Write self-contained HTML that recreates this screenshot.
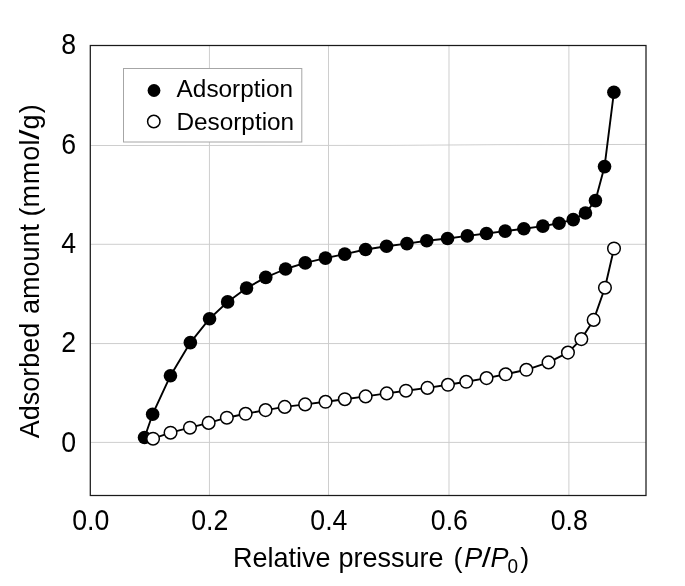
<!DOCTYPE html>
<html><head><meta charset="utf-8"><title>Isotherm</title>
<style>html,body{margin:0;padding:0;background:#fff;overflow:hidden;}svg{display:block;}text{font-family:"Liberation Sans",Arial,sans-serif;fill:#000;}</style></head>
<body>
<svg width="685" height="586" viewBox="0 0 685 586">
<rect x="0" y="0" width="685" height="586" fill="#fff"/>
<g stroke="#cbcbcb" stroke-width="0.95" fill="none">
<line x1="209.45" y1="45.5" x2="209.45" y2="495.5"/>
<line x1="328.5" y1="45.5" x2="328.5" y2="495.5"/>
<line x1="449.0" y1="45.5" x2="449.0" y2="495.5"/>
<line x1="568.9" y1="45.5" x2="568.9" y2="495.5"/>
<line x1="90.3" y1="244.3" x2="646.0" y2="244.3"/>
<line x1="90.3" y1="343.55" x2="646.0" y2="343.55"/>
<line x1="90.3" y1="442.4" x2="646.0" y2="442.4"/>
<polyline points="90.3,145.5 390,145.4 500,144.65 646.0,144.45"/>
</g>
<rect x="90.3" y="45.5" width="555.7" height="450.0" fill="none" stroke="#1a1a1a" stroke-width="1.25"/>
<rect x="123.5" y="68.5" width="178.3" height="73.5" fill="#fff" stroke="#a6a6a6" stroke-width="1"/>
<circle cx="154" cy="90.5" r="6.4" fill="#000"/>
<circle cx="153.8" cy="121.5" r="6.2" fill="#fff" stroke="#000" stroke-width="1.5"/>
<text transform="translate(176.6,97.4)" font-size="24.35">Adsorption</text>
<text transform="translate(176.4,129.7)" font-size="24.35">Desorption</text>
<polyline points="144.55,437.50 152.65,414.20 170.45,375.70 190.35,342.60 209.55,318.70 227.65,301.90 246.55,288.10 265.75,277.40 285.55,269.00 305.25,262.90 325.45,258.10 344.75,254.10 365.55,249.50 386.55,246.20 406.95,243.60 426.75,240.80 447.55,238.50 467.35,235.90 486.45,233.50 505.15,231.10 523.85,228.80 542.85,226.10 559.05,223.20 573.25,219.60 585.45,213.00 595.45,200.60 604.55,166.60 613.90,92.30" fill="none" stroke="#000" stroke-width="1.9" stroke-linejoin="round"/>
<g fill="#000">
<circle cx="144.55" cy="437.50" r="6.8"/>
<circle cx="152.65" cy="414.20" r="6.8"/>
<circle cx="170.45" cy="375.70" r="6.8"/>
<circle cx="190.35" cy="342.60" r="6.8"/>
<circle cx="209.55" cy="318.70" r="6.8"/>
<circle cx="227.65" cy="301.90" r="6.8"/>
<circle cx="246.55" cy="288.10" r="6.8"/>
<circle cx="265.75" cy="277.40" r="6.8"/>
<circle cx="285.55" cy="269.00" r="6.8"/>
<circle cx="305.25" cy="262.90" r="6.8"/>
<circle cx="325.45" cy="258.10" r="6.8"/>
<circle cx="344.75" cy="254.10" r="6.8"/>
<circle cx="365.55" cy="249.50" r="6.8"/>
<circle cx="386.55" cy="246.20" r="6.8"/>
<circle cx="406.95" cy="243.60" r="6.8"/>
<circle cx="426.75" cy="240.80" r="6.8"/>
<circle cx="447.55" cy="238.50" r="6.8"/>
<circle cx="467.35" cy="235.90" r="6.8"/>
<circle cx="486.45" cy="233.50" r="6.8"/>
<circle cx="505.15" cy="231.10" r="6.8"/>
<circle cx="523.85" cy="228.80" r="6.8"/>
<circle cx="542.85" cy="226.10" r="6.8"/>
<circle cx="559.05" cy="223.20" r="6.8"/>
<circle cx="573.25" cy="219.60" r="6.8"/>
<circle cx="585.45" cy="213.00" r="6.8"/>
<circle cx="595.45" cy="200.60" r="6.8"/>
<circle cx="604.55" cy="166.60" r="6.8"/>
<circle cx="613.90" cy="92.30" r="6.8"/>
</g>
<polyline points="153.05,438.70 170.55,432.70 189.95,427.70 208.65,422.90 226.85,417.70 245.65,413.80 265.55,410.10 284.75,406.90 305.15,404.40 325.55,401.80 344.85,399.20 365.65,396.40 386.75,393.40 405.95,390.70 427.45,387.90 447.95,384.80 466.25,381.80 486.55,378.10 505.65,374.30 526.35,369.80 548.55,362.40 567.95,352.60 581.35,339.10 593.65,319.90 604.95,287.70 614.00,248.50" fill="none" stroke="#000" stroke-width="1.9" stroke-linejoin="round"/>
<g fill="#fff" stroke="#000" stroke-width="1.5">
<circle cx="153.05" cy="438.70" r="6.3"/>
<circle cx="170.55" cy="432.70" r="6.3"/>
<circle cx="189.95" cy="427.70" r="6.3"/>
<circle cx="208.65" cy="422.90" r="6.3"/>
<circle cx="226.85" cy="417.70" r="6.3"/>
<circle cx="245.65" cy="413.80" r="6.3"/>
<circle cx="265.55" cy="410.10" r="6.3"/>
<circle cx="284.75" cy="406.90" r="6.3"/>
<circle cx="305.15" cy="404.40" r="6.3"/>
<circle cx="325.55" cy="401.80" r="6.3"/>
<circle cx="344.85" cy="399.20" r="6.3"/>
<circle cx="365.65" cy="396.40" r="6.3"/>
<circle cx="386.75" cy="393.40" r="6.3"/>
<circle cx="405.95" cy="390.70" r="6.3"/>
<circle cx="427.45" cy="387.90" r="6.3"/>
<circle cx="447.95" cy="384.80" r="6.3"/>
<circle cx="466.25" cy="381.80" r="6.3"/>
<circle cx="486.55" cy="378.10" r="6.3"/>
<circle cx="505.65" cy="374.30" r="6.3"/>
<circle cx="526.35" cy="369.80" r="6.3"/>
<circle cx="548.55" cy="362.40" r="6.3"/>
<circle cx="567.95" cy="352.60" r="6.3"/>
<circle cx="581.35" cy="339.10" r="6.3"/>
<circle cx="593.65" cy="319.90" r="6.3"/>
<circle cx="604.95" cy="287.70" r="6.3"/>
<circle cx="614.00" cy="248.50" r="6.3"/>
</g>
<g font-size="26.7" text-anchor="middle">
<text transform="translate(90.7,529.5) scale(1,1.085)">0.0</text>
<text transform="translate(209.8,529.5) scale(1,1.085)">0.2</text>
<text transform="translate(328.9,529.5) scale(1,1.085)">0.4</text>
<text transform="translate(449.4,529.5) scale(1,1.085)">0.6</text>
<text transform="translate(569.3,529.5) scale(1,1.085)">0.8</text>
</g>
<g font-size="26.7" text-anchor="end">
<text transform="translate(76.2,54.1) scale(1,1.085)">8</text>
<text transform="translate(76.2,154.0) scale(1,1.085)">6</text>
<text transform="translate(76.2,252.9) scale(1,1.085)">4</text>
<text transform="translate(76.2,352.2) scale(1,1.085)">2</text>
<text transform="translate(76.2,451.5) scale(1,1.085)">0</text>
</g>
<text transform="translate(0,566.7) scale(1,1.04)" font-size="27"><tspan x="233.1">Relative </tspan><tspan x="338.6">pressure </tspan><tspan x="453.5">(</tspan><tspan x="464.3" font-style="italic">P</tspan><tspan x="481.8" textLength="9.2" lengthAdjust="spacingAndGlyphs">/</tspan><tspan x="490.6" font-style="italic">P</tspan><tspan x="507.5" font-size="19" dy="6">0</tspan><tspan x="520.2" dy="-6">)</tspan></text>
<text transform="translate(38.5,438.2) rotate(-90) scale(1,1.04)" font-size="27"><tspan x="0">Adsorbed </tspan><tspan x="124.2">amount </tspan><tspan x="221.8">(m</tspan><tspan x="253.9">m</tspan><tspan x="277.4">o</tspan><tspan x="292.7">l</tspan><tspan x="298.4" textLength="10.2" lengthAdjust="spacingAndGlyphs">/</tspan><tspan x="308.7">g</tspan><tspan x="325">)</tspan></text>
</svg>
</body></html>
